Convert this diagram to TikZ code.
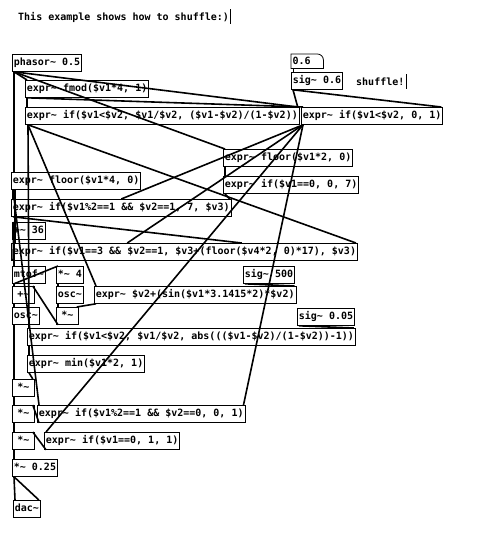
\documentclass[tikz,border=0pt]{standalone}
\usepackage{fontspec}
\setmonofont{DejaVu Sans Mono}
\usetikzlibrary{calc}
\newcommand\tld{\char`\~}
\tikzset{
  pdfont/.style={font=\ttfamily\bfseries\fontsize{10}{12}\selectfont},
  obj/.style={pdfont, draw, line width=0.8pt, anchor=north west, minimum height=17pt,
    minimum width=22pt, inner xsep=1.5pt, inner ysep=0pt, text height=8pt, text depth=2pt},
  msgbox/.style={pdfont, anchor=north west, minimum height=14pt, minimum width=32pt,
    inner xsep=1.5pt, inner ysep=0pt, text height=8pt, text depth=2pt, align=left, text width=29pt},
  cmt/.style={pdfont, anchor=base west, inner sep=0pt},
  sig/.style={line width=1.6pt},
  ctl/.style={line width=0.8pt},
  bar/.style={line width=0.8pt}
}
\begin{document}
\begin{tikzpicture}[x=1pt,y=-1pt]
\fill[white] (0,0) rectangle (500,550);
\useasboundingbox (0,0) rectangle (500,550);

% comments
\node[cmt] (c1) at (18,20) {This example shows how to shuffle:)};
\draw[bar] (230,9) -- (230,24);
\node[cmt] (c2) at (356,85) {shuffle!};
\draw[bar] (406,74) -- (406,89);

% objects
\node[obj] (n1) at (12,54) {phasor\tld{} 0.5};
\node[obj] (n2) at (25,80) {expr\tld{} fmod(\$v1*4, 1)};
\node[obj] (n3) at (25,107) {expr\tld{} if(\$v1<\$v2, \$v1/\$v2, (\$v1-\$v2)/(1-\$v2))};
\node[msgbox] (n4) at (291,54) {0.6};
\draw[line width=0.8pt] (n4.north west) -- ($(n4.north east)+(-6,0)$) to[out=0,in=90] ($(n4.north east)+(0,6)$) -- (n4.south east) -- (n4.south west) -- cycle;
\node[obj] (n5) at (291,72) {sig\tld{} 0.6};
\node[obj] (n6) at (301,107) {expr\tld{} if(\$v1<\$v2, 0, 1)};
\node[obj] (n7) at (223,149) {expr\tld{} floor(\$v1*2, 0)};
\node[obj] (n8) at (223,176) {expr\tld{} if(\$v1==0, 0, 7)};
\node[obj] (n9) at (11,172) {expr\tld{} floor(\$v1*4, 0)};
\node[obj] (n10) at (11,199) {expr\tld{} if(\$v1\%2==1 \&\& \$v2==1, 7, \$v3)};
\node[obj] (n11) at (12,222) {+\tld{} 36};
\node[obj] (n12) at (11,243) {expr\tld{} if(\$v1==3 \&\& \$v2==1, \$v3+(floor(\$v4*2, 0)*17), \$v3)};
\node[obj] (n13) at (12,266) {mtof\tld};
\node[obj] (n14) at (56,266) {*\tld{} 4};
\node[obj] (n15) at (243,266) {sig\tld{} 500};
\node[obj] (n16) at (12,286) {+\tld};
\node[obj] (n17) at (56,286) {osc\tld};
\node[obj] (n18) at (94,286) {expr\tld{} \$v2+(sin(\$v1*3.1415*2)*\$v2)};
\node[obj] (n19) at (12,307) {osc\tld};
\node[obj] (n20) at (56,307) {*\tld};
\node[obj] (n21) at (297,308) {sig\tld{} 0.05};
\node[obj] (n22) at (27,328) {expr\tld{} if(\$v1<\$v2, \$v1/\$v2, abs(((\$v1-\$v2)/(1-\$v2))-1))};
\node[obj] (n23) at (27,355) {expr\tld{} min(\$v1*2, 1)};
\node[obj] (n24) at (12,379) {*\tld};
\node[obj] (n25) at (12,405) {*\tld};
\node[obj] (n26) at (37,405) {expr\tld{} if(\$v1\%2==1 \&\& \$v2==0, 0, 1)};
\node[obj] (n27) at (12,432) {*\tld};
\node[obj] (n28) at (44,432) {expr\tld{} if(\$v1==0, 1, 1)};
\node[obj] (n29) at (12,459) {*\tld{} 0.25};
\node[obj] (n30) at (13,500) {dac\tld};

% connections
\draw[ctl] ($(n4.south west)+(2,0)$) -- ($(n5.north west)+(2,0)$);
\draw[sig] ($(n1.south west)+(2,0)$) -- ($(n2.north west)+(2,0)$);
\draw[sig] ($(n1.south west)+(2,0)$) -- ($(n7.north west)+(2,0)$);
\draw[sig] ($(n1.south west)+(2,0)$) -- ($(n3.north east)+(-2,0)$);
\draw[sig] ($(n1.south west)+(2,0)$) -- ($(n9.north west)+(3,0)$);
\draw[sig] ($(n2.south west)+(2,0)$) -- ($(n3.north west)+(2,0)$);
\draw[sig] ($(n2.south west)+(2,0)$) -- ($(n6.north west)+(2,0)$);
\draw[sig] ($(n5.south west)+(2,0)$) -- ($(n3.north east)+(-2,0)$);
\draw[sig] ($(n5.south west)+(2,0)$) -- ($(n6.north east)+(-2,0)$);
\draw[sig] ($(n3.south west)+(3,0)$) -- ($(n18.north west)+(2,0)$);
\draw[sig] ($(n3.south west)+(3,0)$) -- ($(n12.north east)+(-2,0)$);
\draw[sig] ($(n3.south west)+(3,0)$) -- ($(n22.north west)+(2,0)$);
\draw[sig] ($(n6.south west)+(2,0)$) -- ($(n10.north west)!0.5!(n10.north east)$);
\draw[sig] ($(n6.south west)+(2,0)$) -- ($(n12.north west)!0.335!(n12.north east)$);
\draw[sig] ($(n6.south west)+(2,0)$) -- ($(n26.north east)+(-2,0)$);
\draw[sig] ($(n6.south west)+(2,0)$) -- ($(n28.north west)+(2,0)$);
\draw[sig] ($(n7.south west)+(2,0)$) -- ($(n8.north west)+(2,0)$);
\draw[sig] ($(n8.south west)+(2,0)$) -- ($(n10.north east)+(-2,0)$);
\draw[sig] ($(n9.south west)+(2,0)$) -- ($(n10.north west)+(2,0)$);
\draw[sig] ($(n9.south west)+(4,0)$) -- ($(n12.north west)+(4,0)$);
\draw[sig] ($(n10.south west)+(2,0)$) -- ($(n12.north west)!0.665!(n12.north east)$);
\draw[sig] ($(n12.south west)+(2,0)$) -- ($(n11.north west)+(2,0)$);
\draw[sig] ($(n11.south west)+(2,0)$) -- ($(n13.north west)+(2,0)$);
\draw[sig] ($(n13.south west)+(2,0)$) -- ($(n14.north west)+(2,0)$);
\draw[sig] ($(n13.south west)+(2,0)$) -- ($(n16.north west)+(2,0)$);
\draw[sig] ($(n14.south west)+(2,0)$) -- ($(n17.north west)+(2,0)$);
\draw[sig] ($(n17.south west)+(2,0)$) -- ($(n20.north west)+(2,0)$);
\draw[sig] ($(n15.south west)+(2,0)$) -- ($(n18.north east)+(-2,0)$);
\draw[sig] ($(n18.south west)+(2,0)$) -- ($(n20.north east)+(-2,0)$);
\draw[sig] ($(n20.south west)+(2,0)$) -- ($(n16.north east)+(-2,0)$);
\draw[sig] ($(n16.south west)+(2,0)$) -- ($(n19.north west)+(2,0)$);
\draw[sig] ($(n19.south west)+(2,0)$) -- ($(n24.north west)+(2,0)$);
\draw[sig] ($(n21.south west)+(2,0)$) -- ($(n22.north east)+(-2,0)$);
\draw[sig] ($(n22.south west)+(2,0)$) -- ($(n23.north west)+(2,0)$);
\draw[sig] ($(n23.south west)+(2,0)$) -- ($(n24.north east)+(-2,0)$);
\draw[sig] ($(n9.south west)+(2,0)$) -- ($(n26.north west)+(2,0)$);
\draw[sig] ($(n24.south west)+(2,0)$) -- ($(n25.north west)+(2,0)$);
\draw[sig] ($(n26.south west)+(2,0)$) -- ($(n25.north east)+(-2,0)$);
\draw[sig] ($(n25.south west)+(2,0)$) -- ($(n27.north west)+(2,0)$);
\draw[sig] ($(n28.south west)+(2,0)$) -- ($(n27.north east)+(-2,0)$);
\draw[sig] ($(n27.south west)+(2,0)$) -- ($(n29.north west)+(2,0)$);
\draw[sig] ($(n29.south west)+(2,0)$) -- ($(n30.north west)+(2,0)$);
\draw[sig] ($(n29.south west)+(2,0)$) -- ($(n30.north east)+(-2,0)$);
\end{tikzpicture}
\end{document}
